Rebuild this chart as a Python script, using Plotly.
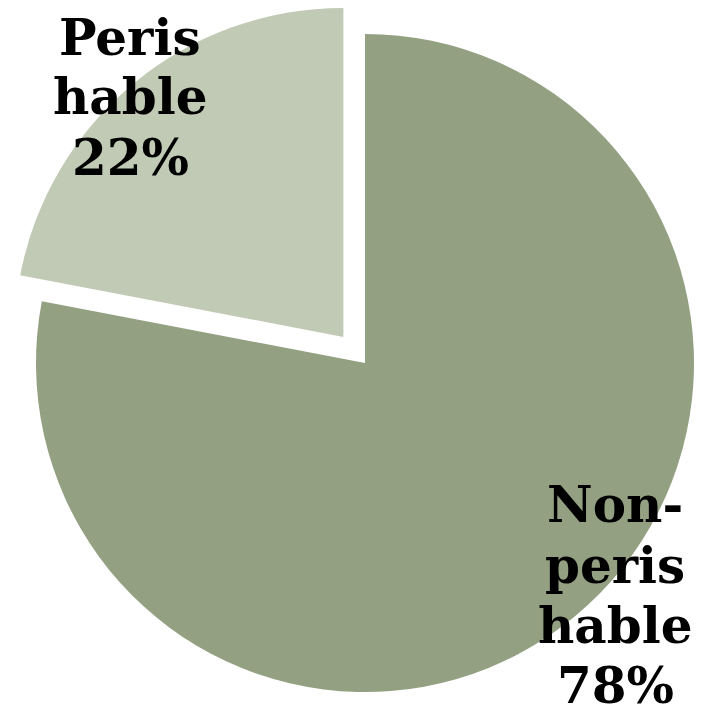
import math
import plotly.graph_objects as go

# Share of items by shelf life
labels = ["Non-perishable", "Perishable"]
values = [78, 22]
label_lines = [["Non-", "peris", "hable"], ["Peris", "hable"]]
colors = ["#93A082", "#C0CAB5"]

W, H = 704, 714
R = 329                 # pie radius in px
CX, CY = 365, 363       # pie centre in px (from top-left)
PULL = 0.103            # fraction of radius the small slice is pulled out


def domain_for(cx, cy, r):
    return dict(
        x=[(cx - r) / W, (cx + r) / W],
        y=[(H - cy - r) / H, (H - cy + r) / H],
    )


total = sum(values)
# mid-angle of the perishable slice, clockwise from 12 o'clock
start = values[0] / total * 360
mid = math.radians(start + values[1] / total * 360 / 2)
dx = PULL * R * math.sin(mid)
dy = -PULL * R * math.cos(mid)

fig = go.Figure()
# base pie: the large slice only
fig.add_trace(go.Pie(
    labels=labels, values=values, sort=False, direction="clockwise", rotation=0,
    marker=dict(colors=[colors[0], "rgba(0,0,0,0)"], line=dict(width=0)),
    textinfo="none", hoverinfo="skip", domain=domain_for(CX, CY, R),
))
# exploded small slice
fig.add_trace(go.Pie(
    labels=labels, values=values, sort=False, direction="clockwise", rotation=0,
    marker=dict(colors=["rgba(0,0,0,0)", colors[1]], line=dict(width=0)),
    textinfo="none", hoverinfo="skip", domain=domain_for(CX + dx, CY + dy, R),
))

font = dict(family="DejaVu Serif", size=50, color="black", weight="bold")
annotations = []
# label blocks: (x centre, baseline of first line)
placements = [(615, 523), (130, 55)]
for (lx, ly), lines, v in zip(placements, label_lines, values):
    for i, t in enumerate(lines + [f"{v}%"]):
        base = ly + i * 60
        annotations.append(dict(
            text=t, x=lx / W, y=(H - base + 18) / H, xref="paper", yref="paper",
            xanchor="center", yanchor="middle", showarrow=False, font=font,
        ))

fig.update_layout(
    width=W, height=H, margin=dict(l=0, r=0, t=0, b=0),
    paper_bgcolor="white", plot_bgcolor="white", showlegend=False,
    annotations=annotations,
)
fig.write_html("out.html")
